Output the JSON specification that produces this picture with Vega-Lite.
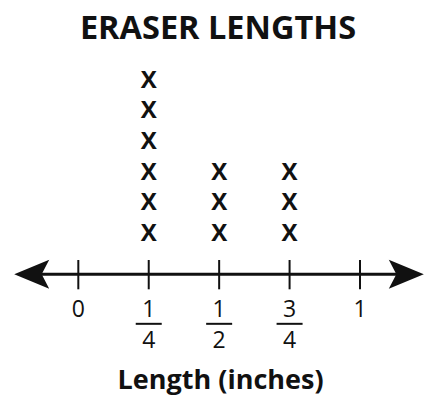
{
  "$schema": "https://vega.github.io/schema/vega-lite/v6.json",
  "width": 436,
  "height": 359,
  "autosize": "none",
  "padding": {"top": 50, "left": 0, "right": 0, "bottom": 0},
  "background": "white",
  "title": {"text": "ERASER LENGTHS", "font": "Open Sans", "fontSize": 32.5, "fontWeight": "bold", "color": "#111111", "anchor": "middle", "offset": 5},
  "config": {"view": {"stroke": null}},
  "datasets": {
    "marks": [
      {"length": 0.25, "count": 1}, {"length": 0.25, "count": 2}, {"length": 0.25, "count": 3},
      {"length": 0.25, "count": 4}, {"length": 0.25, "count": 5}, {"length": 0.25, "count": 6},
      {"length": 0.5, "count": 1}, {"length": 0.5, "count": 2}, {"length": 0.5, "count": 3},
      {"length": 0.75, "count": 1}, {"length": 0.75, "count": 2}, {"length": 0.75, "count": 3}
    ],
    "ticks": [{"value": 0}, {"value": 0.25}, {"value": 0.5}, {"value": 0.75}, {"value": 1}],
    "wholes": [{"value": 0, "label": "0"}, {"value": 1, "label": "1"}],
    "fractions": [
      {"value": 0.25, "num": "1", "den": "4"},
      {"value": 0.5, "num": "1", "den": "2"},
      {"value": 0.75, "num": "3", "den": "4"}
    ],
    "one": [{"id": 1}]
  },
  "layer": [
    {
      "data": {"name": "one"},
      "mark": {"type": "rule", "strokeWidth": 3, "color": "#111111"},
      "encoding": {
        "x": {"datum": -0.165, "type": "quantitative", "scale": {"domain": [-0.278, 1.2698], "nice": false, "zero": false}, "axis": null},
        "x2": {"datum": 1.164},
        "y": {"datum": -0.314, "type": "quantitative", "scale": {"domain": [-4.708, 7.001], "nice": false, "zero": false}, "axis": null}
      }
    },
    {
      "data": {"name": "one"},
      "mark": {"type": "point", "shape": "M-1,0L1,-0.83L0.57,0L1,0.83Z", "filled": true, "size": 1225, "color": "#111111", "opacity": 1},
      "encoding": {
        "x": {"datum": -0.1654, "type": "quantitative"},
        "y": {"datum": -0.314, "type": "quantitative"}
      }
    },
    {
      "data": {"name": "one"},
      "mark": {"type": "point", "shape": "M1,0L-1,-0.83L-0.57,0L-1,0.83Z", "filled": true, "size": 1225, "color": "#111111", "opacity": 1},
      "encoding": {
        "x": {"datum": 1.1644, "type": "quantitative"},
        "y": {"datum": -0.314, "type": "quantitative"}
      }
    },
    {
      "data": {"name": "ticks"},
      "mark": {"type": "rule", "strokeWidth": 2, "color": "#111111"},
      "encoding": {
        "x": {"field": "value", "type": "quantitative"},
        "y": {"datum": 0.152, "type": "quantitative"},
        "y2": {"datum": -0.804}
      }
    },
    {
      "data": {"name": "wholes"},
      "mark": {"type": "text", "font": "Open Sans", "fontSize": 23, "color": "#111111", "baseline": "alphabetic", "align": "center"},
      "encoding": {
        "x": {"field": "value", "type": "quantitative"},
        "y": {"datum": -1.707, "type": "quantitative"},
        "text": {"field": "label"}
      }
    },
    {
      "data": {"name": "fractions"},
      "mark": {"type": "text", "font": "Open Sans", "fontSize": 23, "color": "#111111", "baseline": "alphabetic", "align": "center"},
      "encoding": {
        "x": {"field": "value", "type": "quantitative"},
        "y": {"datum": -1.707, "type": "quantitative"},
        "text": {"field": "num"}
      }
    },
    {
      "data": {"name": "fractions"},
      "mark": {"type": "tick", "orient": "horizontal", "size": 26, "thickness": 2, "color": "#111111", "opacity": 1},
      "encoding": {
        "x": {"field": "value", "type": "quantitative"},
        "y": {"datum": -1.93, "type": "quantitative"}
      }
    },
    {
      "data": {"name": "fractions"},
      "mark": {"type": "text", "font": "Open Sans", "fontSize": 23, "color": "#111111", "baseline": "alphabetic", "align": "center"},
      "encoding": {
        "x": {"field": "value", "type": "quantitative"},
        "y": {"datum": -2.71, "type": "quantitative"},
        "text": {"field": "den"}
      }
    },
    {
      "data": {"name": "one"},
      "mark": {"type": "text", "font": "Open Sans", "fontSize": 27, "fontWeight": "bold", "color": "#111111", "baseline": "alphabetic", "align": "center"},
      "encoding": {
        "x": {"datum": 0.505, "type": "quantitative"},
        "y": {"datum": -4.055, "type": "quantitative"},
        "text": {"value": "Length (inches)"}
      }
    },
    {
      "data": {"name": "marks"},
      "mark": {"type": "text", "font": "Open Sans", "fontSize": 24, "fontWeight": "bold", "color": "#111111", "baseline": "middle", "align": "center"},
      "encoding": {
        "x": {"field": "length", "type": "quantitative"},
        "y": {"field": "count", "type": "quantitative"},
        "text": {"value": "X"}
      }
    }
  ]
}
